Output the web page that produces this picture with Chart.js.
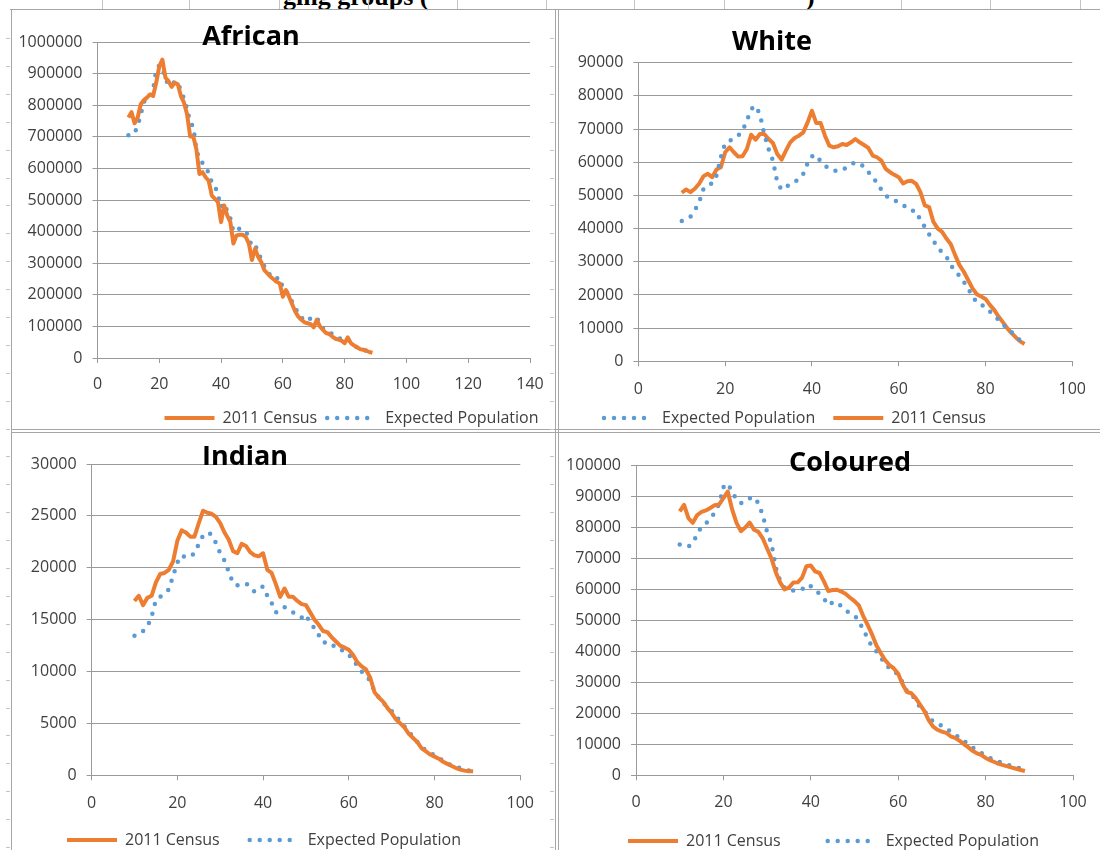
<!DOCTYPE html>
<html>
<head>
<meta charset="utf-8">
<title>Population by age: 2011 Census and Expected Population</title>
<script src="https://cdn.jsdelivr.net/npm/chart.js@4.4.1/dist/chart.umd.min.js"></script>
<style>
  html, body { margin: 0; padding: 0; background: #ffffff; }
  body { width: 1100px; height: 850px; position: relative; overflow: hidden; font-family: "Open Sans", sans-serif; }
  canvas { position: absolute; }
  .rule { position: absolute; background: #a6a6a6; }
  .tick { position: absolute; background: #c4c4c4; }
  .head { position: absolute; font: bold 26px "Liberation Serif", serif; line-height: 1; color: #000; white-space: pre; }
</style>
</head>
<body>
<div class="head" style="left:283px; top:-16px;">ging groups (</div>
<div class="head" style="left:806px; top:-16px;">)</div>

<canvas id="african" width="683" height="440" style="left:10px; top:0px;"></canvas>
<canvas id="white" width="610" height="440" style="left:490px; top:0px;"></canvas>
<canvas id="indian" width="568" height="438" style="left:-20px; top:432px;"></canvas>
<canvas id="coloured" width="547" height="438" style="left:560px; top:432px;"></canvas>

<script>
// Ages (single years) shared by every panel
const ages = [10, 11, 12, 13, 14, 15, 16, 17, 18, 19,
              20, 21, 22, 23, 24, 25, 26, 27, 28, 29,
              30, 31, 32, 33, 34, 35, 36, 37, 38, 39,
              40, 41, 42, 43, 44, 45, 46, 47, 48, 49,
              50, 51, 52, 53, 54, 55, 56, 57, 58, 59,
              60, 61, 62, 63, 64, 65, 66, 67, 68, 69,
              70, 71, 72, 73, 74, 75, 76, 77, 78, 79,
              80, 81, 82, 83, 84, 85, 86, 87, 88, 89];

const censusLabel = '2011 Census';
const expectedLabel = 'Expected Population';
const panelTitles = ['African', 'White', 'Indian', 'Coloured'];

// African
const africanCensus = [761000, 778000, 743000, 761000, 803000, 816000, 824000, 834000, 829000, 871000,
                       923000, 944000, 887000, 876000, 858000, 871000, 866000, 829000, 808000, 771000,
                       701000, 701000, 661000, 582000, 588000, 572000, 561000, 514000, 504000, 493000,
                       430000, 483000, 451000, 430000, 362000, 388000, 390000, 390000, 383000, 362000,
                       310000, 346000, 320000, 304000, 278000, 268000, 257000, 249000, 241000, 236000,
                       194000, 215000, 194000, 170000, 147000, 131000, 121000, 113000, 110000, 107000,
                       97000, 121000, 100000, 89000, 79000, 76000, 68000, 61000, 58000, 55000,
                       47000, 65000, 47000, 40000, 34000, 28000, 26000, 23000, 19000, 16000];
const africanExpected = [705000, 705000, 712000, 735000, 770000, 810000, 822000, 826000, 850000, 910000,
                         926000, 920000, 878000, 870000, 862000, 876000, 872000, 845000, 821000, 789000,
                         745000, 732000, 660000, 627000, 617000, 605000, 585000, 555000, 545000, 515000,
                         478000, 490000, 465000, 442000, 400000, 406000, 410000, 408000, 402000, 380000,
                         352000, 356000, 338000, 310000, 290000, 272000, 262000, 250000, 252000, 254000,
                         220000, 215000, 193000, 178000, 160000, 140000, 128000, 118000, 116000, 126000,
                         131000, 128000, 108000, 94000, 88000, 83000, 75000, 67000, 63000, 60000,
                         57000, 60000, 50000, 40000, 33000, 30000, 27000, 23000, 20000, 17000];

// White
const whiteCensus = [50800, 51800, 51000, 52000, 53500, 55800, 56500, 55500, 57800, 58500,
                     63000, 64500, 63000, 61700, 61800, 64000, 68300, 66800, 68500, 68500,
                     67000, 65800, 62500, 60800, 63500, 66000, 67300, 68000, 69000, 72000,
                     75500, 71800, 71800, 68000, 65000, 64500, 64800, 65500, 65200, 66000,
                     67000, 66000, 65200, 64300, 62000, 61500, 60500, 58000, 57000, 56200,
                     55500, 53600, 54300, 54400, 53500, 51000, 47000, 46500, 42000, 40000,
                     39000, 37000, 35300, 32000, 29000, 27000, 24500, 22000, 20200, 19500,
                     18800, 17000, 15500, 13500, 11800, 10000, 8500, 7200, 6000, 5200];
const whiteExpected = [42300, 43000, 43600, 45500, 48000, 52000, 53200, 53600, 56000, 61500,
                       65800, 66500, 67000, 68000, 69500, 72500, 76000, 77000, 74500, 68500,
                       64000, 60500, 54000, 51700, 52500, 53400, 54200, 54800, 56500, 59700,
                       61800, 62200, 60200, 59000, 57900, 57500, 57300, 57600, 58500, 59300,
                       60000, 59500, 58700, 57000, 55700, 53600, 51700, 50000, 49000, 48500,
                       48000, 47200, 46000, 45400, 45300, 42500, 40500, 38300, 36300, 34300,
                       32800, 31500, 29000, 27200, 25800, 24000, 21900, 19700, 17700, 17000,
                       16400, 15000, 13800, 12500, 11200, 9800, 8800, 7500, 6300, 5500];

// Indian
const indianCensus = [16800, 17300, 16400, 17100, 17300, 18600, 19400, 19500, 19800, 20600,
                      22600, 23600, 23400, 23000, 23000, 24300, 25500, 25300, 25200, 24900,
                      24300, 23400, 22700, 21600, 21400, 22300, 22100, 21500, 21200, 21100,
                      21400, 19800, 19500, 18400, 17200, 18000, 17200, 17200, 16800, 16500,
                      16400, 15700, 15000, 14500, 13900, 13800, 13300, 12900, 12500, 12300,
                      12100, 11600, 10900, 10500, 10200, 9400, 8000, 7500, 7100, 6500,
                      6000, 5400, 5000, 4600, 4000, 3600, 3200, 2600, 2300, 2000,
                      1800, 1600, 1300, 1100, 900, 700, 550, 450, 400, 380];
const indianExpected = [13450, 13600, 13900, 14300, 15300, 16900, 17200, 17500, 17900, 19200,
                        20500, 21200, 21000, 21100, 21400, 22300, 23100, 23400, 23200, 22400,
                        21400, 20700, 19600, 18500, 18300, 18400, 18500, 18200, 17700, 18000,
                        18200, 17300, 16600, 15700, 15900, 16200, 15900, 15700, 15400, 15200,
                        15500, 14600, 14200, 13500, 12800, 12800, 12700, 12200, 12100, 12000,
                        11600, 11200, 10500, 10000, 9600, 9100, 8100, 7500, 7000, 6600,
                        6200, 5700, 5200, 4700, 4200, 3700, 3200, 2700, 2400, 2200,
                        1900, 1700, 1400, 1100, 1000, 800, 700, 600, 450, 380];

// Coloured
const colouredCensus = [85200, 87300, 83000, 81500, 84000, 85000, 85500, 86300, 87200, 87400,
                        89500, 91600, 85800, 81500, 78800, 80000, 81600, 79300, 78600, 76500,
                        73200, 70000, 65500, 62200, 60000, 60600, 62200, 62300, 63800, 67500,
                        67700, 65800, 65300, 62600, 59500, 59800, 59900, 59300, 58500, 57300,
                        56200, 54800, 51400, 48600, 45500, 42000, 39500, 37200, 35600, 34500,
                        32800, 29400, 26900, 26500, 24900, 22800, 20700, 17700, 15700, 14700,
                        14100, 13700, 12600, 12100, 11200, 10100, 9100, 7900, 7100, 6600,
                        5600, 4900, 4300, 3700, 3300, 2900, 2500, 2100, 1700, 1400];
const colouredExpected = [74500, 74200, 73800, 75000, 77800, 80300, 81300, 82700, 84800, 87500,
                          93000, 94200, 91500, 89000, 87800, 88400, 89400, 89800, 87800, 84000,
                          78500, 74800, 67000, 62800, 60400, 60000, 59600, 59800, 60000, 61500,
                          61000, 59900, 58500, 57100, 54900, 55800, 55900, 54500, 53200, 52300,
                          51500, 50000, 46800, 44400, 41400, 40000, 38200, 35800, 34600, 33700,
                          32400, 30000, 27200, 26200, 24200, 22000, 20700, 19000, 17300, 16600,
                          16000, 15200, 14000, 13000, 12300, 11200, 10000, 9000, 8100, 7200,
                          6300, 5600, 5000, 4400, 3800, 3400, 3000, 2600, 2200, 1800];

// Axis ranges: [max, step]
const africanYAxis = [1000000, 100000];
const whiteYAxis = [90000, 10000];
const indianYAxis = [30000, 5000];
const colouredYAxis = [100000, 10000];
const africanXAxis = [140, 20];
const otherXAxis = [100, 20];

// ---- styling ----
const ORANGE = '#ED7D31';
const BLUE = '#5B9BD5';
const GRID = '#9a9a9a';
const TEXT = '#404040';
const FONT = 'Open Sans';

const toPoints = (values) => ages.map((a, i) => ({ x: a, y: values[i] }));

function censusSet(values) {
  return {
    label: censusLabel, data: toPoints(values),
    borderColor: ORANGE, backgroundColor: ORANGE,
    borderWidth: 4, borderJoinStyle: 'round', borderCapStyle: 'butt',
    pointRadius: 0, tension: 0, fill: false
  };
}
function expectedSet(values) {
  return {
    label: expectedLabel, data: toPoints(values),
    borderColor: BLUE, backgroundColor: BLUE,
    borderWidth: 4.5, borderDash: [0, 10], borderCapStyle: 'round',
    pointRadius: 0, tension: 0, fill: false
  };
}

// Legend samples use the dataset line style (dash, width, caps)
function legendLabels(chart) {
  const items = Chart.defaults.plugins.legend.labels.generateLabels(chart);
  items.forEach((it) => {
    const ds = chart.data.datasets[it.datasetIndex];
    it.lineDash = ds.borderDash || [];
    it.lineWidth = ds.borderWidth;
    it.lineCap = ds.borderCapStyle;
    it.strokeStyle = ds.borderColor;
    it.fillStyle = ds.borderColor;
    it.pointStyle = 'line';
  });
  return items;
}

// Panel heading drawn over the plot, as the panels carry their title inside the plot frame
const panelTitlePlugin = {
  id: 'panelTitle',
  afterDraw(chart, args, opts) {
    const ctx = chart.ctx;
    ctx.save();
    ctx.font = 'bold 27px "' + FONT + '"';
    ctx.fillStyle = '#000000';
    ctx.textAlign = 'center';
    ctx.textBaseline = 'alphabetic';
    ctx.fillText(opts.text, opts.x, opts.y);
    ctx.restore();
  }
};

function makePanel(id, o) {
  const tickFont = { family: FONT, size: 16 };
  new Chart(document.getElementById(id), {
    type: 'line',
    data: { datasets: o.datasets },
    plugins: [panelTitlePlugin],
    options: {
      responsive: false,
      animation: false,
      devicePixelRatio: 1,
      layout: { padding: { top: o.padTop, bottom: o.padBottom, left: 0, right: 0 } },
      scales: {
        x: {
          type: 'linear', min: 0, max: o.xAxis[0],
          ticks: { stepSize: o.xAxis[1], font: tickFont, color: TEXT, padding: o.xTickPad, maxRotation: 0,
                   callback: (v) => String(v) },
          grid: { drawOnChartArea: false, drawTicks: true, tickLength: 5, color: GRID, lineWidth: 1 },
          border: { display: true, color: GRID, width: 1 },
          afterFit: (s) => {
            s.height = o.xHeight;
            // the axis box is kept short so the legend sits close; let its labels draw past it
            s._computeLabelArea = () => undefined;
          }
        },
        y: {
          type: 'linear', position: 'left', min: 0, max: o.yAxis[0],
          ticks: { stepSize: o.yAxis[1], font: tickFont, color: TEXT, padding: 10,
                   callback: (v) => String(v) },
          grid: { drawOnChartArea: true, drawTicks: true, tickLength: 5, color: GRID, lineWidth: 1 },
          border: { display: true, color: GRID, width: 1 },
          afterFit: (s) => { s.width = o.yWidth; }
        },
        spacer: {
          type: 'linear', position: 'right', display: true,
          ticks: { display: false }, grid: { display: false }, border: { display: false },
          afterFit: (s) => { s.width = o.rightWidth; }
        }
      },
      plugins: {
        legend: {
          display: true, position: 'bottom', align: 'center',
          labels: {
            usePointStyle: true, pointStyle: 'line', pointStyleWidth: 50,
            font: { family: FONT, size: 16 }, color: TEXT, padding: o.legendGap,
            generateLabels: legendLabels
          }
        },
        tooltip: { enabled: false },
        panelTitle: { text: o.title, x: o.titleX, y: o.titleY }
      }
    }
  });
}

makePanel('african', {
  datasets: [censusSet(africanCensus), expectedSet(africanExpected)],
  xAxis: africanXAxis, yAxis: africanYAxis, legendGap: 10,
  padTop: 42, padBottom: 4, xHeight: 42, yWidth: 87.5, rightWidth: 163, xTickPad: 12,
  title: panelTitles[0], titleX: 241, titleY: 45
});
makePanel('white', {
  datasets: [expectedSet(whiteExpected), censusSet(whiteCensus)],
  xAxis: otherXAxis, yAxis: whiteYAxis, legendGap: 18,
  padTop: 62.7, padBottom: 4, xHeight: 30.7, yWidth: 148.4, rightWidth: 23.5, xTickPad: 14,
  title: panelTitles[1], titleX: 282, titleY: 50
});
makePanel('indian', {
  datasets: [censusSet(indianCensus), expectedSet(indianExpected)],
  xAxis: otherXAxis, yAxis: indianYAxis, legendGap: 30,
  padTop: 32, padBottom: 12, xHeight: 26.7, yWidth: 111.6, rightWidth: 18, xTickPad: 14,
  title: panelTitles[2], titleX: 265, titleY: 33
});
makePanel('coloured', {
  datasets: [censusSet(colouredCensus), expectedSet(colouredExpected)],
  xAxis: otherXAxis, yAxis: colouredYAxis, legendGap: 47,
  padTop: 33.5, padBottom: 11, xHeight: 10.7, yWidth: 76, rightWidth: 34, xTickPad: 13,
  title: panelTitles[3], titleX: 290, titleY: 38.7
});

// Panel frame lines
function rule(cls, l, t, w, h) {
  const d = document.createElement('div');
  d.className = cls;
  d.style.left = l + 'px'; d.style.top = t + 'px';
  d.style.width = w + 'px'; d.style.height = h + 'px';
  document.body.appendChild(d);
}
rule('rule', 10, 9, 1090, 1);
rule('rule', 11, 9, 1, 841);
rule('rule', 555, 9, 1, 841);
rule('rule', 558, 9, 1, 841);
rule('rule', 11, 429, 1089, 1);
rule('rule', 11, 432, 1089, 1);
[102, 189, 279, 368, 457, 546, 634, 724, 901, 990, 1080].forEach((x) => rule('tick', x, 0, 1, 9));
for (let y = 38; y < 850; y += 27.9) {
  rule('tick', 6, Math.round(y), 4, 1);
  rule('tick', 550, Math.round(y), 4, 1);
}
</script>
</body>
</html>
